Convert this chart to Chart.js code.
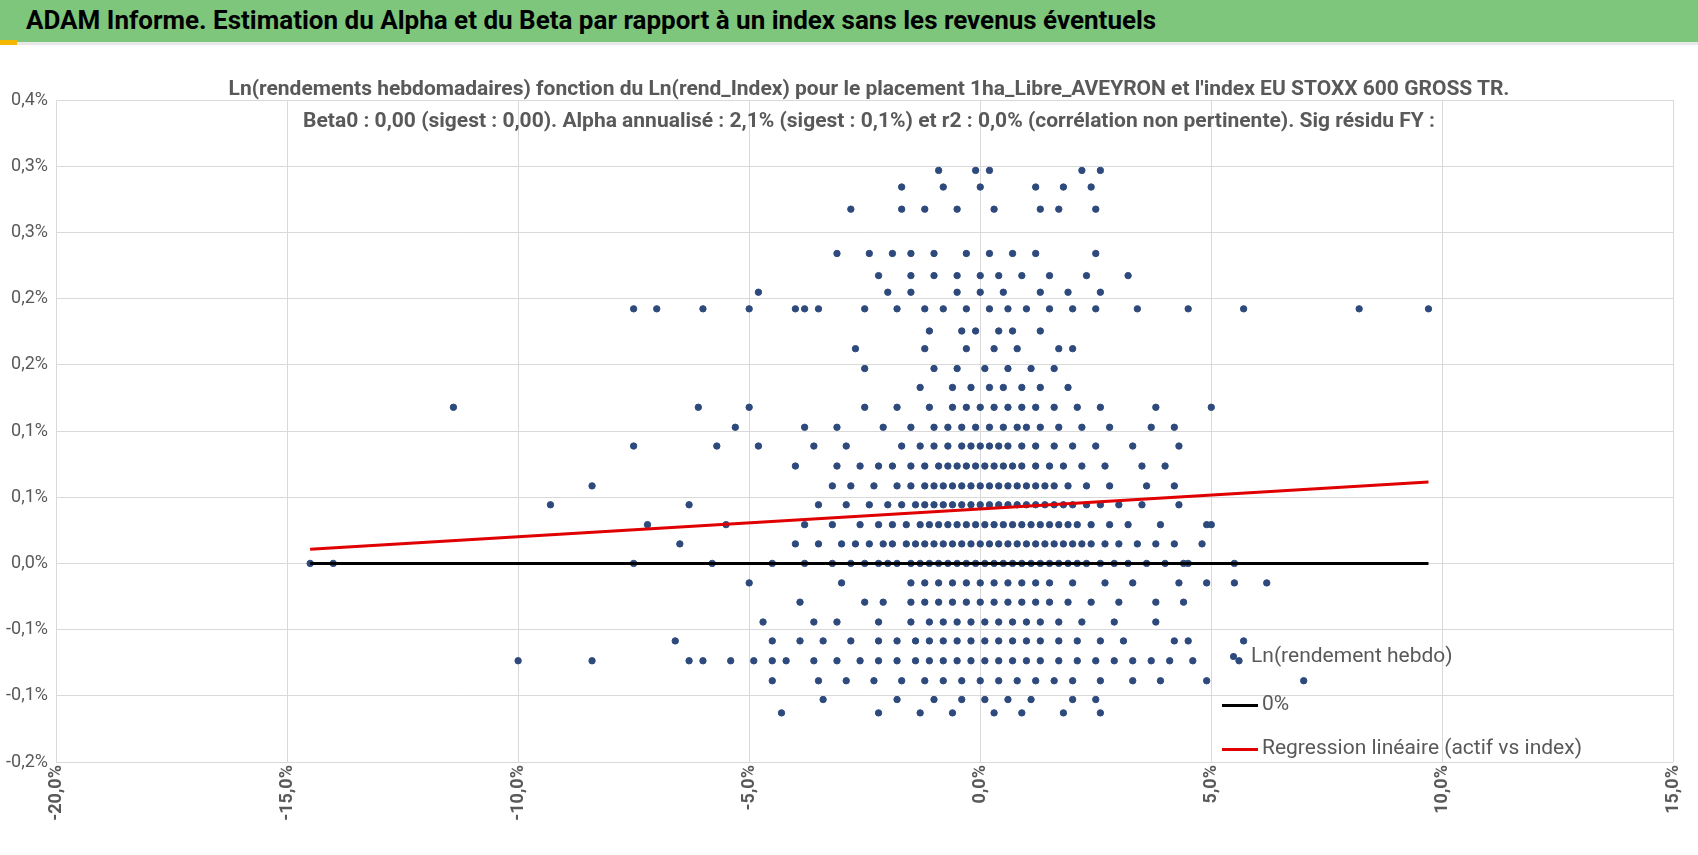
<!DOCTYPE html>
<html>
<head>
<meta charset="utf-8">
<script src="https://cdn.jsdelivr.net/npm/chart.js@4/dist/chart.umd.min.js"></script>
<style>
  body { margin: 0; width: 1698px; height: 855px; background: #fff; overflow: hidden; font-family: "Liberation Sans Narrow", "Roboto", sans-serif; }
  #wrap { position: relative; width: 1698px; height: 855px; }
  #header { position: absolute; left: 0; top: 0; width: 1698px; height: 42px; background: #7dc67b; border-bottom: 3px solid #e8e8e8; }
  #header span { position: absolute; left: 26px; top: 5px; font-size: 26px; font-weight: bold; color: #000; }
  #header i { position: absolute; left: 0; bottom: -3px; width: 17px; height: 5px; background: #f5b800; }
  #title { position: absolute; left: 56px; width: 1626px; top: 72px; text-align: center; color: #595959; font-size: 21px; line-height: 32px; font-weight: bold; }
  canvas { position: absolute; left: 0; top: 0; }
  .lg { position: absolute; color: #595959; font-size: 21px; }
  .ln { position: absolute; height: 3px; width: 36px; }
</style>
</head>
<body>
<div id="wrap">
  <canvas id="c" width="1698" height="855"></canvas>
  <div id="header"><span>ADAM Informe. Estimation du Alpha et du Beta par rapport à un index sans les revenus éventuels</span><i></i></div>
  <div id="title">Ln(rendements hebdomadaires) fonction du Ln(rend_Index) pour le placement 1ha_Libre_AVEYRON et l'index EU STOXX 600 GROSS TR.<br>Beta0 : 0,00 (sigest : 0,00). Alpha annualisé : 2,1% (sigest : 0,1%) et r2 : 0,0% (corrélation non pertinente). Sig résidu FY :</div>
  <div class="lg" style="left:1230px;top:643px;"><span style="display:inline-block;width:7px;height:7px;border-radius:50%;background:#2e4a7d;margin-right:14px;vertical-align:middle"></span>Ln(rendement hebdo)</div>
  <div class="ln" style="left:1222px;top:704px;background:#000"></div>
  <div class="lg" style="left:1262px;top:691px;">0%</div>
  <div class="ln" style="left:1222px;top:748px;background:#e00000"></div>
  <div class="lg" style="left:1262px;top:735px;">Regression linéaire (actif vs index)</div>
</div>
<script>
// weekly log returns arrive in discrete bands; x values (index return, %) per band level (asset return, %)
const bandLevels = [0, 0.0162, 0.0322, 0.0487, 0.0644, 0.0809, 0.0975, 0.1131, 0.1297, 0.1462, 0.1619, 0.1784, 0.1931, 0.2115, 0.2253, 0.2391, 0.2575, 0.2943, 0.3127, 0.3265,
  -0.0162, -0.0322, -0.0487, -0.0644, -0.0809, -0.0975, -0.1131, -0.1242];
const bandX = [
  [-14.5,-14,-7.5,-5.8,-4.5,-3.8,-3.2,-2.8,-2.5,-2.2,-2,-1.8,-1.5,-1.3,-1.1,-0.9,-0.7,-0.5,-0.3,-0.1,0.1,0.3,0.5,0.7,0.9,1.1,1.3,1.5,1.7,1.9,2.1,2.3,2.6,2.9,3.2,3.6,4,4.4,4.5,5.5],
  [-6.5,-4,-3.5,-3,-2.7,-2.4,-2.1,-1.9,-1.6,-1.4,-1.2,-1,-0.8,-0.6,-0.4,-0.2,0,0.2,0.4,0.6,0.8,1,1.2,1.4,1.6,1.8,2,2.2,2.4,2.7,3,3.4,3.8,4.2,4.8],
  [-7.2,-5.5,-3.8,-3.2,-2.6,-2.2,-1.9,-1.6,-1.3,-1.1,-0.9,-0.7,-0.5,-0.3,-0.1,0.1,0.3,0.5,0.7,0.9,1.1,1.3,1.5,1.7,1.9,2.1,2.4,2.8,3.2,3.9,4.9,5],
  [-9.3,-6.3,-3.5,-2.9,-2.4,-2,-1.7,-1.4,-1.2,-1,-0.8,-0.6,-0.4,-0.2,0,0.2,0.4,0.6,0.8,1,1.2,1.4,1.6,1.8,2,2.3,2.6,3,3.5,4.3],
  [-8.4,-3.2,-2.8,-2.3,-1.8,-1.5,-1.2,-1,-0.8,-0.6,-0.4,-0.2,0,0.2,0.4,0.6,0.8,1,1.2,1.4,1.6,1.9,2.3,2.8,3.6,4.2],
  [-4,-3.1,-2.6,-2.2,-1.9,-1.5,-1.2,-0.9,-0.7,-0.5,-0.3,-0.1,0.1,0.3,0.5,0.7,0.9,1.2,1.5,1.8,2.2,2.7,3.5,4],
  [-7.5,-5.7,-4.8,-3.6,-2.9,-1.7,-1.3,-1,-0.7,-0.4,-0.2,0,0.2,0.4,0.6,0.9,1.2,1.6,2,2.5,3.3,4.3],
  [-5.3,-3.8,-3.1,-2.1,-1.5,-1,-0.7,-0.4,-0.1,0.2,0.5,0.8,1,1.3,1.7,2.2,2.8,3.7,4.2],
  [-11.4,-6.1,-5,-2.5,-1.8,-1.1,-0.6,-0.3,0,0.3,0.6,0.9,1.2,1.6,2.1,2.6,3.8,5],
  [-1.3,-0.6,-0.2,0.2,0.5,0.9,1.3,1.9],
  [-2.5,-1,-0.5,0.1,0.6,1.1,1.6],
  [-2.7,-1.2,-0.3,0.3,0.8,1.7,2],
  [-1.1,-0.4,-0.1,0.4,0.7,1.3],
  [-7.5,-7,-6,-5,-4,-3.8,-3.5,-2.5,-1.8,-1.2,-0.8,-0.3,0.2,0.6,1,1.5,2,2.5,3.4,4.5,5.7,8.2,9.7],
  [-4.8,-2,-1.5,-0.5,0,0.5,1.3,1.9,2.6],
  [-2.2,-1.5,-1,-0.5,0,0.4,0.9,1.5,2.3,3.2],
  [-3.1,-2.4,-1.9,-1.5,-1,-0.3,0.2,0.7,1.2,2.5],
  [-2.8,-1.7,-1.2,-0.5,0.3,1.3,1.7,2.5],
  [-1.7,-0.8,0,1.2,1.8,2.4],
  [-0.9,-0.1,0.2,2.2,2.6],
  [-5,-3,-1.5,-1.2,-0.9,-0.6,-0.3,0,0.3,0.6,0.9,1.2,1.5,2,2.7,3.3,4.3,4.9,5.5,6.2],
  [-3.9,-2.5,-2.1,-1.5,-1.2,-0.9,-0.6,-0.3,0,0.3,0.6,0.9,1.2,1.5,1.9,2.4,3,3.8,4.4],
  [-4.7,-3.6,-3.1,-2.2,-1.5,-1.1,-0.8,-0.5,-0.2,0.1,0.4,0.7,1,1.3,1.7,2.2,2.9,3.8],
  [-6.6,-4.5,-3.9,-3.4,-2.8,-2.2,-1.8,-1.4,-1.1,-0.8,-0.5,-0.2,0.1,0.4,0.7,1,1.3,1.7,2.1,2.6,3.1,4.2,4.5,5.7],
  [-10,-8.4,-6.3,-6,-5.4,-4.9,-4.5,-4.2,-3.6,-3.1,-2.6,-2.2,-1.8,-1.4,-1.1,-0.8,-0.5,-0.2,0.1,0.4,0.7,1,1.3,1.7,2.1,2.5,2.9,3.3,3.7,4.1,4.6,5.6],
  [-4.5,-3.5,-2.9,-2.3,-1.7,-1.2,-0.8,-0.4,0,0.4,0.8,1.2,1.6,2,2.6,3.3,3.9,4.9,7],
  [-3.4,-1.8,-1,-0.4,0.1,0.6,1.1,2,2.5],
  [-4.3,-2.2,-1.3,-0.6,0.3,0.9,1.8,2.6]
];
const zeroLineX = [-14.5, 9.7];
const zeroLineY = [0, 0];
const regX = [-14.5, 9.7];
const regY = [0.0117, 0.0676];
const yMin = -0.165, yMax = 0.385, yStep = 0.055;
const yTickLabels = ['-0,2%', '-0,1%', '-0,1%', '0,0%', '0,1%', '0,1%', '0,2%', '0,2%', '0,3%', '0,3%', '0,4%'];

const points = [];
bandLevels.forEach((lvl, i) => bandX[i].forEach(x => points.push({ x: x, y: lvl })));

const fnt = { family: '"Liberation Sans Narrow", Roboto, sans-serif', size: 18 };
new Chart(document.getElementById('c'), {
  type: 'scatter',
  data: {
    datasets: [
      { data: points, backgroundColor: '#2e4a7d', borderColor: '#2e4a7d', pointRadius: 3.2, order: 3 },
      { type: 'line', data: zeroLineX.map((x, i) => ({ x: x, y: zeroLineY[i] })), borderColor: '#000', borderWidth: 3, pointRadius: 0, order: 2 },
      { type: 'line', data: regX.map((x, i) => ({ x: x, y: regY[i] })), borderColor: '#e00000', borderWidth: 3, pointRadius: 0, order: 1 }
    ]
  },
  options: {
    responsive: false, animation: false,
    layout: { padding: { top: 100, right: 16, left: 0, bottom: 0 } },
    plugins: { legend: { display: false }, tooltip: { enabled: false } },
    scales: {
      x: {
        min: -20, max: 15,
        ticks: { stepSize: 5, maxRotation: 90, minRotation: 90, color: '#595959', font: { ...fnt, weight: 'bold' },
          callback: v => v.toFixed(1).replace('.', ',') + '%' },
        grid: { color: '#d9d9d9', drawTicks: false }, border: { display: false },
        afterFit: s => { s.height = 93; }
      },
      y: {
        min: yMin, max: yMax,
        afterBuildTicks: s => { s.ticks = yTickLabels.map((l, i) => ({ value: yMin + i * yStep })); },
        ticks: { color: '#595959', font: fnt, padding: 8,
          callback: (v, i) => yTickLabels[i] },
        grid: { color: '#d9d9d9', drawTicks: false }, border: { display: false },
        afterFit: s => { s.width = 56; }
      }
    }
  }
});
</script>
</body>
</html>
